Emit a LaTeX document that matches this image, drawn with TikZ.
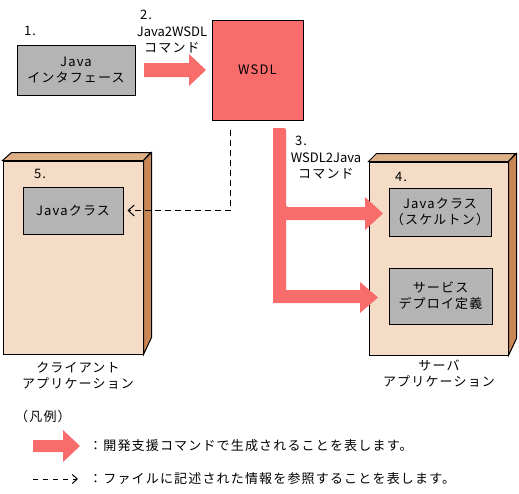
\documentclass[tikz,border=0pt]{standalone}
\usepackage{fontspec}
\setmainfont{Noto Sans CJK JP}[LetterSpace=9]
\newfontfamily\latn{Noto Sans CJK JP}
\usetikzlibrary{arrows.meta}
\definecolor{cmdred}{RGB}{248,108,108}
\definecolor{boxgray}{RGB}{180,180,180}
\definecolor{appfront}{RGB}{245,220,198}
\definecolor{apptop}{RGB}{222,176,135}
\definecolor{appside}{RGB}{200,135,85}
\begin{document}
\begin{tikzpicture}[x=1pt,y=-1pt,
        every node/.style={font=\fontsize{13}{16}\selectfont,inner sep=0pt,align=center},
        graybox/.style={draw,line width=1pt,fill=boxgray},
        appbox/.style={draw,line width=1pt,fill=appfront},
        refline/.style={dashed,dash pattern=on 6pt off 4pt,line width=1pt,-{Straight Barb[length=6pt,width=11pt]}}]
    \useasboundingbox (0,0) rectangle (519,493);
    % Java interface and WSDL
    \node (n1) at (30,31) {1.};
    \node[graybox,minimum width=118,minimum height=50] (iface) at (76,70) {Java\\インタフェース};
    \node (n2) at (146,15) {2.};
    \node (cmd1) at (172,40) {{\latn Java2WSDL}\\コマンド};
    \node[draw,line width=1pt,fill=cmdred,minimum width=91,minimum height=100] (wsdl) at (257.5,70) {WSDL};
    \fill[cmdred] (144,63) -- (189,63) -- (189,54) -- (206,70) -- (189,86) -- (189,77) -- (144,77) -- cycle;
    % client application
    \node[appbox,minimum width=140,minimum height=193] (client) at (73,257.5) {};
    \draw[line width=1pt,fill=apptop] (client.north west) -- ++(9,-8) -- ++(139,0) -- (client.north east) -- cycle;
    \draw[line width=1pt,fill=appside] (client.north east) -- ++(8,-8) -- ++(0,185) -- (client.south east) -- cycle;
    \node (n5) at (40,174) {5.};
    \node[graybox,minimum width=100,minimum height=47] (cjava) at (73,210.5) {Javaクラス};
    \node (client lbl) at (78,376) {クライアント\\アプリケーション};
    % server application
    \node[appbox,minimum width=139,minimum height=193] (server) at (438.5,258.5) {};
    \draw[line width=1pt,fill=apptop] (server.north west) -- ++(8,-8) -- ++(139,0) -- (server.north east) -- cycle;
    \draw[line width=1pt,fill=appside] (server.north east) -- ++(8,-8) -- ++(0,185) -- (server.south east) -- cycle;
    \node (n4) at (401,177) {4.};
    \node[graybox,minimum width=102,minimum height=48] (skel) at (440,212) {Javaクラス\\（スケルトン）};
    \node[graybox,minimum width=103,minimum height=56] (deploy) at (440.5,296) {サービス\\デプロイ定義};
    \node (server lbl) at (439,374) {サーバ\\アプリケーション};
    % WSDL2Java
    \node (n3) at (301,141) {3.};
    \node (cmd2) at (326,165.5) {{\latn WSDL2Java}\\コマンド};
    \fill[cmdred,rounded corners=2pt] (273,128) -- (286,128) -- (286,207) [sharp corners] -- (365,207) -- (365,197) -- (383,213.5)
        -- (365,230) -- (365,220) -- (286,220) -- (286,290) -- (360,290) -- (360,282) -- (378,297.5)
        -- (360,313) -- (360,303) -- (273,303) -- cycle;
    \coordinate (refstart) at (230,130);
    \draw[refline,shorten >=4pt] (refstart) |- (cjava.east);
    % legend
    \node (legend) at (43,417) {（凡例）};
    \fill[cmdred] (33,440) -- (63,440) -- (63,430) -- (80,446) -- (63,462) -- (63,452) -- (33,452) -- cycle;
    \node[anchor=west] (leg1) at (89,446) {：開発支援コマンドで生成されることを表します。};
    \coordinate (legs) at (33,479);
    \coordinate (lege) at (78,479);
    \draw[dashed,dash pattern=on 5pt off 5pt,line width=1pt,-{Straight Barb[length=5pt,width=9pt]}] (legs) -- (lege);
    \node[anchor=west] (leg2) at (89,479) {：ファイルに記述された情報を参照することを表します。};
\end{tikzpicture}
\end{document}
